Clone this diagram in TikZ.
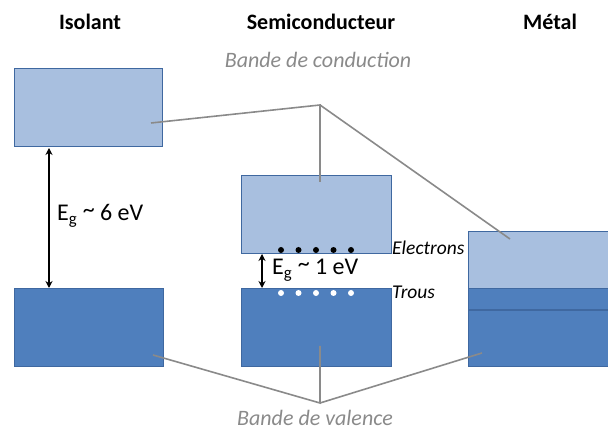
\documentclass[tikz,border=0pt]{standalone}
\usepackage{fontspec}
\setmainfont{Carlito}
\usetikzlibrary{arrows.meta}
\definecolor{lightband}{HTML}{A8BFDF}
\definecolor{darkband}{HTML}{4F7FBD}
\definecolor{bandborder}{HTML}{3F68A0}
\definecolor{leader}{HTML}{8A8A8A}
\tikzset{
  cband/.style={draw=bandborder, line width=1pt, fill=lightband, inner sep=0pt, minimum width=148pt, minimum height=78pt},
  vband/.style={draw=bandborder, line width=1pt, fill=darkband, inner sep=0pt, minimum width=149pt, minimum height=78pt},
  title/.style={font=\fontsize{22}{24}\selectfont\bfseries},
  glabel/.style={text=leader, font=\fontsize{22}{24}\selectfont\itshape, inner sep=1pt},
  small/.style={font=\fontsize{19.5}{21}\selectfont\itshape, inner sep=1pt},
  gap/.style={font=\fontsize{24}{26}\selectfont, inner sep=1pt},
  lead/.style={draw=leader, line width=1.6pt},
  garrow/.style={{Stealth[length=7pt,width=7pt]}-{Stealth[length=7pt,width=7pt]}, line width=1.4pt, black},
  edot/.style={circle, fill=black, inner sep=0pt, minimum size=6pt},
  hdot/.style={circle, fill=white, inner sep=0pt, minimum size=6pt}
}
\begin{document}
\begin{tikzpicture}[x=1pt,y=-1pt]
\useasboundingbox (0,0) rectangle (608,430);
% titles
\node[title] (t1) at (90,22) {Isolant};
\node[title] (t2) at (321,22) {Semiconducteur};
\node[title] (t3) at (550,22) {Métal};
% isolant
\node[cband] (ic) at (88,108) {};
\node[vband] (iv) at (89,328) {};
% semiconducteur
\node[cband, minimum width=150pt] (sc) at (316,214.5) {};
\node[vband, minimum width=150pt] (sv) at (316,328) {};
% metal
\begin{scope}
\clip (0,0) rectangle (608,430);
\fill[lightband] (468,232) rectangle (612,289);
\fill[darkband] (468,289) rectangle (612,367);
\draw[bandborder, line width=1pt] (468,289) -- (612,289);
\draw[bandborder, line width=1.5pt] (468,310) -- (612,310);
\node[draw=bandborder, line width=1pt, inner sep=0pt, minimum width=150pt, minimum height=135pt] (mb) at (543,299.5) {};
\end{scope}
% labels
\node[glabel] (bc) at (318,60) {Bande de conduction};
\node[glabel] (bv) at (315,418) {Bande de valence};
% leader lines conduction
\coordinate (cc) at (320,105);
\coordinate (ce1) at (151,123);
\coordinate (ce2) at (320,182);
\coordinate (ce3) at (510,239);
\draw[lead] (ce1) -- (cc) -- (ce2);
\draw[lead] (cc) -- (ce3);
% leader lines valence
\coordinate (vc) at (320,403);
\coordinate (ve1) at (153,355);
\coordinate (ve2) at (320,346);
\coordinate (ve3) at (482,353);
\draw[lead] (ve1) -- (vc) -- (ve2);
\draw[lead] (vc) -- (ve3);
% gap arrows
\draw[garrow] (49,148) -- (49,288);
\node[gap, anchor=west] (g1) at (56,216) {E\textsubscript{g} \raisebox{3pt}{\textasciitilde} 6 eV};
\draw[garrow] (262,254) -- (262,288);
\node[gap, anchor=west] (g2) at (271,270) {E\textsubscript{g} \raisebox{3pt}{\textasciitilde} 1 eV};
% electrons and holes
\foreach \i/\xx in {1/281,2/298.5,3/316,4/333.5,5/351} {
  \node[edot] (e\i) at (\xx,250) {};
  \node[hdot] (h\i) at (\xx,293) {};
}
\node[small, anchor=west] (el) at (391,248) {Electrons};
\node[small, anchor=west] (tr) at (391,292) {Trous};
\end{tikzpicture}
\end{document}
